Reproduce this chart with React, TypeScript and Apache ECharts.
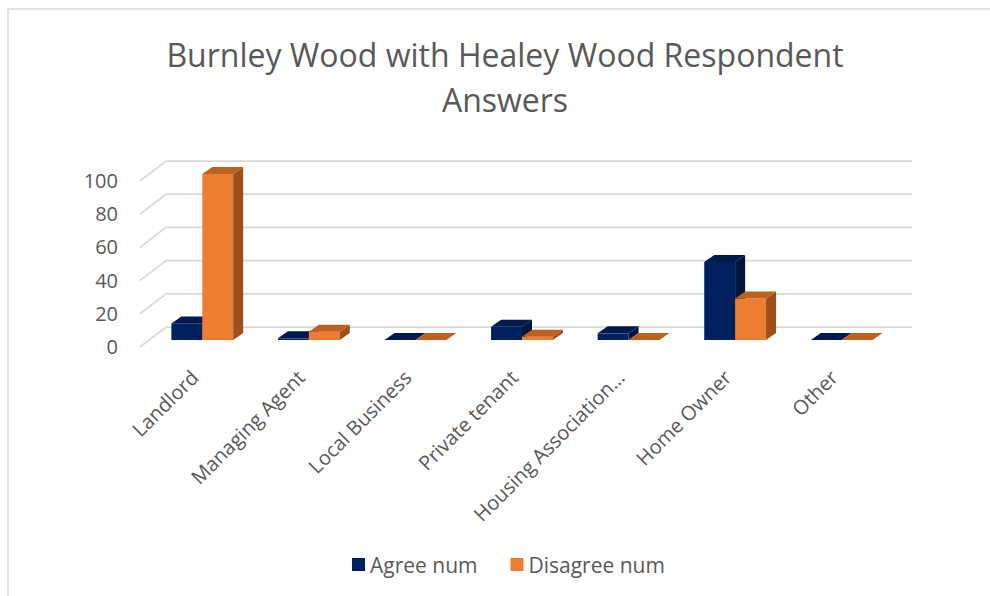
import React, { useEffect, useRef } from "react";
import * as echarts from "echarts";

const categories = [
  "Landlord",
  "Managing Agent",
  "Local Business",
  "Private tenant",
  "Housing Association…",
  "Home Owner",
  "Other",
];
const agreeNum = [10, 1, 0, 8, 4, 47, 0];
const disagreeNum = [100, 5, 0, 2, 0, 25, 0];
const yTicks = [0, 20, 40, 60, 80, 100];
const seriesNames = ["Agree num", "Disagree num"];

const FONT = "'Open Sans', 'Noto Sans', sans-serif";
const TEXT = "#595959";

// depth offsets (px)
const GRID_FRONT = [-9, 7];
const GRID_BACK = [17, -13];
const BAR_D = [10, -7];

const palettes = [
  { front: "#002060", top: "#001a4f", side: "#00163f" },
  { front: "#ED7D31", top: "#C0601F", side: "#9E4F1B" },
];

export default function App() {
  const ref = useRef<HTMLDivElement>(null);
  useEffect(() => {
    if (!ref.current) return;
    const chart = echarts.init(ref.current, undefined, { renderer: "svg" });

    const barSeries = (sIdx: number, values: number[]) => ({
      name: seriesNames[sIdx],
      type: "custom",
      z: 3 + sIdx,
      itemStyle: { color: palettes[sIdx].front },
      data: values.map((v, i) => [i, v]),
      encode: { x: 0, y: 1 },
      renderItem: (params: any, api: any) => {
        const i = api.value(0);
        const v = api.value(1);
        const p0 = api.coord([i, 0]);
        const p1 = api.coord([i, v]);
        const bw = api.size([1, 0])[0];
        const w = bw * 0.29;
        const x = sIdx === 0 ? p0[0] - w : p0[0];
        const yb = p0[1];
        const yt = p1[1];
        const [dx, dy] = BAR_D;
        const pal = palettes[sIdx];
        return {
          type: "group",
          children: [
            {
              type: "polygon",
              shape: { points: [[x, yt], [x + w, yt], [x + w, yb], [x, yb]] },
              style: { fill: pal.front },
            },
            {
              type: "polygon",
              shape: {
                points: [[x + w, yt], [x + w + dx, yt + dy], [x + w + dx, yb + dy], [x + w, yb]],
              },
              style: { fill: pal.side },
            },
            {
              type: "polygon",
              shape: {
                points: [[x, yt], [x + dx, yt + dy], [x + w + dx, yt + dy], [x + w, yt]],
              },
              style: { fill: pal.top },
            },
          ],
        };
      },
    });

    const option: any = {
      animation: false,
      backgroundColor: "#ffffff",
      title: {
        text: "Burnley Wood with Healey Wood Respondent\nAnswers",
        left: 500,
        top: 27,
        textAlign: "center",
        textStyle: {
          fontFamily: FONT,
          fontSize: 32,
          lineHeight: 45,
          fontWeight: "normal",
          color: TEXT,
        },
      },
      legend: {
        data: seriesNames,
        left: 347,
        top: 549,
        icon: "rect",
        itemWidth: 13,
        itemHeight: 13,
        itemGap: 33,
        textStyle: { fontFamily: FONT, fontSize: 21, color: TEXT },
      },
      graphic: [
        {
          type: "rect",
          shape: { x: 8, y: 9, width: 1000, height: 600 },
          style: { fill: "none", stroke: "#d9d9d9", lineWidth: 1.5 },
          silent: true,
        },
      ],
      grid: { left: 149, right: 95, top: 174, bottom: 256 },
      xAxis: {
        type: "category",
        data: categories,
        axisLine: { show: false },
        axisTick: { show: false },
        splitLine: { show: false },
        axisLabel: {
          interval: 0,
          rotate: 45,
          margin: 26,
          formatter: (v: string) => `{a|${v}}`,
          rich: {
            a: {
              padding: [0, 11, 0, 0],
              fontFamily: FONT,
              fontSize: 20,
              color: TEXT,
            },
          },
        },
      },
      yAxis: {
        type: "value",
        min: 0,
        max: 100,
        interval: 20,
        axisLine: { show: false },
        axisTick: { show: false },
        splitLine: { show: false },
        axisLabel: {
          margin: 31,
          formatter: (v: number) => `{a|${v}}`,
          rich: {
            a: {
              padding: [13, 0, 0, 0],
              fontFamily: FONT,
              fontSize: 20,
              color: TEXT,
            },
          },
        },
      },
      series: [
        {
          name: "grid3d",
          type: "custom",
          z: 1,
          silent: true,
          data: yTicks.map((t) => [0, t]),
          encode: { x: 0, y: 1 },
          renderItem: (params: any, api: any) => {
            const v = api.value(1);
            const bw = api.size([1, 0])[0];
            const pl = api.coord([0, v]);
            const pr = api.coord([categories.length - 1, v]);
            const lx = pl[0] - bw / 2;
            const rx = pr[0] + bw / 2;
            const y = pl[1];
            return {
              type: "polyline",
              shape: {
                points: [
                  [lx + GRID_FRONT[0], y + GRID_FRONT[1]],
                  [lx + GRID_BACK[0], y + GRID_BACK[1]],
                  [rx + GRID_BACK[0], y + GRID_BACK[1]],
                ],
              },
              style: { stroke: "#d9d9d9", lineWidth: 1.75, fill: "none" },
            };
          },
        },
        barSeries(0, agreeNum),
        barSeries(1, disagreeNum),
      ],
    };
    chart.setOption(option);
    return () => chart.dispose();
  }, []);

  return (
    <div
      ref={ref}
      style={{
        position: "fixed",
        left: 0,
        top: 0,
        width: "990px",
        height: "596px",
        overflow: "hidden",
        background: "#fff",
      }}
    />
  );
}
